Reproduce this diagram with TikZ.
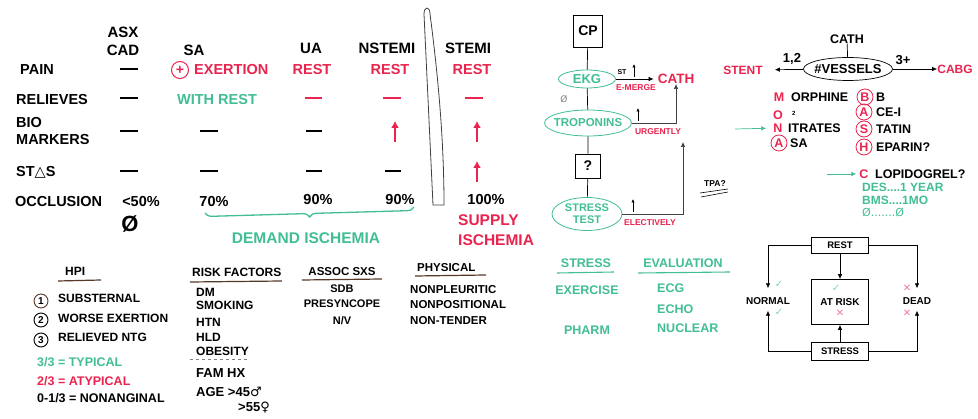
\documentclass[tikz,border=0pt]{standalone}
\usepackage{fontspec}
\setmainfont{Liberation Sans}
\newfontfamily\symfont{DejaVu Sans}
\usepackage{tikz}
\usetikzlibrary{arrows.meta,shapes.geometric,decorations.pathreplacing}
\definecolor{hred}{RGB}{234,36,78}
\definecolor{hgreen}{RGB}{66,190,150}
\definecolor{hbrown}{RGB}{85,58,42}

\begin{document}
\begin{tikzpicture}[x=1pt,y=-1pt,
  every node/.style={inner sep=0pt, font=\bfseries},
  hdr/.style={font=\fontsize{15}{18}\selectfont\bfseries, align=center},
  tab/.style={font=\fontsize{14.5}{17}\selectfont\bfseries, align=left},
  mid/.style={font=\fontsize{12.5}{14}\selectfont\bfseries},
  lst/.style={font=\fontsize{12}{14}\selectfont\bfseries, anchor=west},
  sml/.style={font=\fontsize{8.5}{10}\selectfont\bfseries},
  nilbar/.style={line width=2.4pt},
  uparr/.style={hred, line width=1.4pt, -{Latex[length=7pt,width=8pt]}},
  flow/.style={-{Latex[length=5pt,width=4.5pt]}, line width=0.7pt},
  tick/.style={-{Latex[length=3.5pt,width=3.5pt]}, line width=0.7pt},
  oval/.style={draw=hgreen, ellipse, text=hgreen, line width=0.8pt},
  sqbox/.style={draw, line width=0.8pt, fill=white},
  ring/.style={circle, draw=hred, text=hred, line width=0.8pt, minimum size=16pt},
  numring/.style={circle, draw, line width=0.9pt, minimum size=14pt, font=\fontsize{10}{10}\selectfont\bfseries},
  uline/.style={draw=hbrown, line width=1.2pt},
  okmark/.style={text=hgreen!70, font=\symfont\fontsize{10}{10}\selectfont},
  nomark/.style={text=hred!60, font=\symfont\fontsize{10}{10}\selectfont}
]
\useasboundingbox[fill=white] (0,0) rectangle (978,419);

\node[hdr] (asx) at (123,41) {ASX\\CAD};
\node[hdr] (sa) at (194,50) {SA};
\node[hdr] (ua) at (311,48) {UA};
\node[hdr] (nstemi) at (387,48) {NSTEMI};
\node[hdr] (stemi) at (468,48) {STEMI};

\node[tab, anchor=west] (pain) at (20,70) {PAIN};
\node[tab, anchor=west] (relieves) at (16,100) {RELIEVES};
\node[tab, anchor=west] (bio) at (16,131) {BIO\\MARKERS};
\node[tab, anchor=west] (stchange) at (16,172) {ST{\symfont △}S};
\node[tab, anchor=west] (occl) at (15,202) {OCCLUSION};

\draw[nilbar] (120,69) -- (138,69);
\draw[nilbar] (120,98) -- (138,98);
\draw[nilbar] (120,131) -- (138,131);
\draw[nilbar] (120,171) -- (138,171);
\node[tab] (lt50) at (141,202) {<50\%};
\node[font=\fontsize{22}{22}\selectfont\bfseries] (nocad) at (130,224) {Ø};

\node[ring, minimum size=17pt, line width=1pt, font=\fontsize{14}{14}\selectfont\bfseries] (plus) at (180,70) {+};
\node[tab, text=hred, anchor=west] (exert) at (194,70) {EXERTION};
\node[tab, text=hgreen] (withrest) at (217,100) {WITH REST};
\draw[nilbar] (200,131) -- (218,131);
\draw[nilbar] (200,171) -- (218,171);
\node[tab] (p70) at (214,202) {70\%};

\node[tab, text=hred] (uarest) at (312,70) {REST};
\draw[nilbar, hred] (305,98) -- (322,98);
\draw[nilbar] (306,131) -- (322,131);
\draw[nilbar] (306,171) -- (322,171);
\node[tab] (p90a) at (318,200) {90\%};

\node[tab, text=hred] (nstrest) at (390,70) {REST};
\draw[nilbar, hred] (383,98) -- (401,98);
\draw[uparr] (395,142) -- (395,121);
\draw[nilbar] (385,171) -- (401,171);
\node[tab] (p90b) at (400,200) {90\%};

\node[tab, text=hred] (strest) at (472,70) {REST};
\draw[nilbar, hred] (465,98) -- (483,98);
\draw[uparr] (477,142) -- (477,121);
\draw[uparr] (477,182) -- (477,161);
\node[tab] (p100) at (486,200) {100\%};

\draw[black!75, line width=0.8pt] (424,14) .. controls (424,6) and (430,6) .. (430,14)
  .. controls (436,60) and (444,130) .. (444,205) -- (433,205) -- cycle;

\draw[hgreen, line width=1.3pt, decorate, decoration={brace, mirror, amplitude=7pt}] (205,213) -- (414,207);
\node[font=\fontsize{15.5}{18}\selectfont\bfseries, text=hgreen] (demand) at (306,238) {DEMAND ISCHEMIA};
\node[font=\fontsize{15.5}{20}\selectfont\bfseries, text=hred, align=left, anchor=west] (supply) at (458,230) {SUPPLY\\ISCHEMIA};

\node[lst] (hpi) at (65,271) {HPI};
\draw[uline] (58,281) -- (101,280);
\node[numring, draw=hbrown] (n1) at (41,301) {1};
\node[numring] (n2) at (41,320) {2};
\node[numring] (n3) at (41,340) {3};
\node[lst] (subst) at (58,298) {SUBSTERNAL};
\node[lst] (worse) at (58,318) {WORSE EXERTION};
\node[lst] (relntg) at (58,337) {RELIEVED NTG};
\node[lst, font=\fontsize{12.5}{14}\selectfont\bfseries, text=hgreen] (typical) at (37,362) {3/3 = TYPICAL};
\node[lst, font=\fontsize{12.5}{14}\selectfont\bfseries, text=hred] (atypical) at (37,381) {2/3 = ATYPICAL};
\node[lst, font=\fontsize{12.5}{14}\selectfont\bfseries] (nonang) at (37,398) {0-1/3 = NONANGINAL};

\node[lst] (riskh) at (192,272) {RISK FACTORS};
\draw[uline] (190,282) -- (282,281);
\node[lst] (dm) at (196,292) {DM};
\node[lst] (smoking) at (196,305) {SMOKING};
\node[lst] (htn) at (196,322) {HTN};
\node[lst] (hld) at (196,337) {HLD};
\node[lst] (obesity) at (196,351) {OBESITY};
\draw[gray, dashed, line width=0.6pt] (190,359) -- (250,359);
\node[lst, font=\fontsize{13}{14}\selectfont\bfseries] (famhx) at (196,373) {FAM HX};
\node[lst, font=\fontsize{13}{14}\selectfont\bfseries] (age) at (196,392) {AGE >45{\symfont ♂}};
\node[lst, font=\fontsize{13}{14}\selectfont\bfseries] (age55) at (238,408) {>55{\symfont ♀}};

\node[font=\fontsize{11.5}{14}\selectfont\bfseries] (assoch) at (342,272) {ASSOC SXS};
\draw[uline] (302,280) -- (382,279);
\node[font=\fontsize{11}{14}\selectfont\bfseries] (sdb) at (342,289) {SDB};
\node[font=\fontsize{11}{14}\selectfont\bfseries] (presync) at (342,304) {PRESYNCOPE};
\node[font=\fontsize{11}{14}\selectfont\bfseries] (nv) at (342,321) {N/V};

\node[lst, font=\fontsize{11.5}{14}\selectfont\bfseries] (physh) at (417,268) {PHYSICAL};
\draw[uline] (415,276) -- (486,275);
\node[lst, font=\fontsize{11.5}{14}\selectfont\bfseries] (nonpleu) at (410,290) {NONPLEURITIC};
\node[lst, font=\fontsize{11.5}{14}\selectfont\bfseries] (nonpos) at (410,305) {NONPOSITIONAL};
\node[lst, font=\fontsize{11.5}{14}\selectfont\bfseries] (nontender) at (410,321) {NON-TENDER};

\node[sqbox, minimum width=29pt, minimum height=32pt, font=\fontsize{14}{14}\selectfont\bfseries] (cp) at (588,31) {CP};
\node[oval, minimum width=57pt, minimum height=18pt, font=\fontsize{13}{14}\selectfont\bfseries] (ekg) at (587,79) {EKG};
\node[oval, minimum width=87pt, minimum height=26pt, inner xsep=-8pt, font=\fontsize{11.5}{14}\selectfont\bfseries] (trop) at (588,123) {TROPONINS};
\node[sqbox, minimum width=25pt, minimum height=24pt, font=\fontsize{14}{14}\selectfont\bfseries] (qbox) at (588,166) {?};
\node[oval, minimum width=70pt, minimum height=33pt, align=center, font=\fontsize{11}{12}\selectfont\bfseries] (stress) at (587,214) {STRESS\\TEST};
\node[font=\fontsize{13.5}{14}\selectfont\bfseries, text=hred] (cath) at (676,79) {CATH};
\coordinate (eltip) at (683,142);
\draw[line width=0.7pt] (cp) -- (ekg) -- (trop) -- (qbox) -- (stress);
\draw[flow, shorten >=4pt] (ekg) -- (cath);
\draw[flow, black!75] (trop) -| (cath);
\draw[flow, black!75] (stress) -| (eltip);
\node[sml, font=\fontsize{7}{8}\selectfont\bfseries] (stlab) at (622,72) {ST};
\draw[tick] (634,77) -- (634,64);
\node[sml, text=hred] (emerge) at (636,88) {E-MERGE};
\node[text=gray, font=\symfont\fontsize{9}{9}\selectfont] (nullekg) at (564,99) {Ø};
\draw[tick] (638,121) -- (638,108);
\node[sml, text=hred] (urgent) at (658,132) {URGENTLY};
\draw[tick] (633,212) -- (633,199);
\node[sml, text=hred] (elect) at (650,223) {ELECTIVELY};
\node[sml] (tpa) at (715,184) {TPA?};
\draw[line width=0.6pt] (700,193) -- (728,189);
\draw[line width=0.6pt] (701,197) -- (728,192);

\node[font=\fontsize{12.5}{14}\selectfont\bfseries] (cathtop) at (847,39) {CATH};
\node[draw, ellipse, line width=0.7pt, minimum width=89pt, minimum height=23pt, inner xsep=-4pt, font=\fontsize{13}{14}\selectfont\bfseries] (vessels) at (848,69) {\#VESSELS};
\node[font=\fontsize{12}{14}\selectfont\bfseries, text=hred] (stent) at (743,70) {STENT};
\node[font=\fontsize{12}{14}\selectfont\bfseries, text=hred] (cabg) at (955,69) {CABG};
\node[font=\fontsize{13}{14}\selectfont\bfseries] (onetwo) at (792,59) {1,2};
\node[font=\fontsize{13}{14}\selectfont\bfseries] (threeplus) at (903,60) {3+};
\draw[line width=0.7pt] (cathtop) -- (vessels);
\draw[flow, shorten >=12pt] (vessels) -- (stent);
\draw[flow] (vessels) -- (cabg);

\node[mid, text=hred] (mm) at (779,97) {M};
\node[mid, anchor=west] (morph) at (791,97) {ORPHINE};
\node[mid, text=hred] (mo) at (778,115) {O};
\node[font=\fontsize{6}{6}\selectfont\bfseries, anchor=west] (otwo) at (792,113) {2};
\node[mid, text=hred] (mn) at (778,128) {N};
\node[mid, anchor=west] (nitr) at (788,128) {ITRATES};
\node[ring, mid] (ma) at (779,143) {A};
\node[mid, anchor=west] (asa) at (790,143) {SA};
\node[ring, mid] (bb) at (865,97) {B};
\node[mid, anchor=west] (bbrest) at (876,97) {B};
\node[ring, mid] (ace) at (864,112) {A};
\node[mid, anchor=west] (acerest) at (876,112) {CE-I};
\node[ring, mid] (stat) at (864,129) {S};
\node[mid, anchor=west] (statrest) at (876,129) {TATIN};
\node[ring, mid] (hep) at (864,147) {H};
\node[mid, anchor=west] (heprest) at (876,147) {EPARIN?};
\coordinate (monafrom) at (735,129);
\draw[flow, hgreen, shorten >=7pt] (monafrom) -- (mn);

\node[mid, text=hred] (clopc) at (864,174) {C};
\node[mid, anchor=west] (clop) at (875,174) {LOPIDOGREL?};
\coordinate (clopfrom) at (827,174);
\draw[flow, hgreen, shorten >=3pt] (clopfrom) -- (clopc);
\node[lst, text=hgreen] (des) at (862,187) {DES....1 YEAR};
\node[lst, text=hgreen] (bms) at (862,200) {BMS....1MO};
\node[lst, text=hgreen, font=\symfont\fontsize{11}{12}\selectfont] (noneed) at (862,213) {Ø.......Ø};

\node[mid, text=hgreen] (strh) at (586,263) {STRESS};
\draw[hgreen, line width=1.1pt] (557,273) -- (614,272);
\node[mid, text=hgreen] (evalh) at (683,263) {EVALUATION};
\draw[hgreen, line width=1.1pt] (638,273) -- (730,272);
\node[mid, text=hgreen] (exer) at (587,290) {EXERCISE};
\node[mid, text=hgreen] (pharm) at (587,330) {PHARM};
\node[mid, text=hgreen, anchor=west] (ecg) at (657,288) {ECG};
\node[mid, text=hgreen, anchor=west] (echo) at (657,309) {ECHO};
\node[mid, text=hgreen, anchor=west] (nuclear) at (657,328) {NUCLEAR};

\node[sqbox, minimum width=57pt, minimum height=16pt, font=\fontsize{9.5}{10}\selectfont\bfseries] (rest) at (840,245) {REST};
\node[sqbox, minimum width=57pt, minimum height=45pt, font=\fontsize{10}{10}\selectfont\bfseries] (atrisk) at (840,302) {AT RISK};
\node[sqbox, minimum width=57pt, minimum height=18pt, font=\fontsize{9.5}{10}\selectfont\bfseries] (stressb) at (840,351) {STRESS};
\node[font=\fontsize{10}{10}\selectfont\bfseries] (normal) at (768,301) {NORMAL};
\node[font=\fontsize{10}{10}\selectfont\bfseries] (dead) at (917,301) {DEAD};
\draw[flow, shorten >=9pt] (rest) -| (normal);
\draw[flow, shorten >=9pt] (rest) -| (dead);
\draw[flow] (rest) -- (atrisk);
\draw[flow] (stressb) -- (atrisk);
\draw[flow, shorten >=6pt] (stressb) -| (normal);
\draw[flow, shorten >=6pt] (stressb) -| (dead);
\node[okmark] (ck1) at (779,284) {✓};
\node[okmark] (ck2) at (779,312) {✓};
\node[okmark] (ck3) at (836,288) {✓};
\node[nomark] (cx1) at (840,313) {✕};
\node[nomark] (cx2) at (907,288) {✕};
\node[nomark] (cx3) at (907,313) {✕};
\end{tikzpicture}
\end{document}
